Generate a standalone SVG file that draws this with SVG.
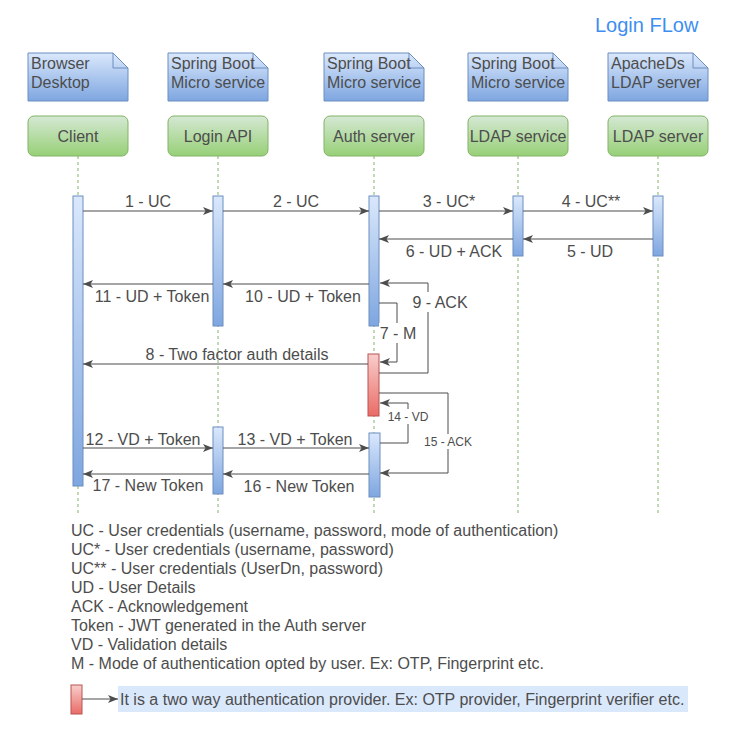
<svg xmlns="http://www.w3.org/2000/svg" width="732" height="744" viewBox="0 0 732 744">
<defs>
<linearGradient id="gBlue" x1="0" y1="0" x2="0" y2="1"><stop offset="0" stop-color="#dae8fc"/><stop offset="1" stop-color="#7ea6e0"/></linearGradient>
<linearGradient id="gGreen" x1="0" y1="0" x2="0" y2="1"><stop offset="0" stop-color="#d5e8d4"/><stop offset="1" stop-color="#97d077"/></linearGradient>
<linearGradient id="gRed" x1="0" y1="0" x2="0" y2="1"><stop offset="0" stop-color="#f8cecc"/><stop offset="1" stop-color="#ea6b66"/></linearGradient>
<marker id="ah" viewBox="0 0 10 10" refX="10" refY="5" markerWidth="10" markerHeight="10" markerUnits="userSpaceOnUse" orient="auto">
<path d="M0,1 L10,5 L0,9 L2.5,5 Z" fill="#4d4d4d"/>
</marker>
<style>
text{font-family:"Liberation Sans",Arial,sans-serif;font-size:16px;fill:#4d4d4d}
.note{fill:url(#gBlue);stroke:#6c8ebf;stroke-width:1}
.fold{fill:none;stroke:#6c8ebf;stroke-width:1}
.obj{fill:url(#gGreen);stroke:#82b366;stroke-width:1}
.life{stroke:#82b366;stroke-width:1;stroke-dasharray:3,3;fill:none}
.act{fill:url(#gBlue);stroke:#6c8ebf;stroke-width:1}
.actr{fill:url(#gRed);stroke:#b85450;stroke-width:1}
.msg{stroke:#4d4d4d;stroke-width:1;fill:none;marker-end:url(#ah)}
.mid{text-anchor:middle}
.sm{font-size:12px}
.lbg{fill:#ffffff}
</style>
</defs>
<rect width="732" height="744" fill="#ffffff"/>
<text x="595" y="32" style="font-size:20px;fill:#3d8ef0">Login FLow</text>

<g id="lifelines">
<line class="life" x1="78" y1="156" x2="78" y2="515"/>
<line class="life" x1="218" y1="156" x2="218" y2="515"/>
<line class="life" x1="374" y1="156" x2="374" y2="515"/>
<line class="life" x1="518" y1="156" x2="518" y2="515"/>
<line class="life" x1="658" y1="156" x2="658" y2="515"/>
</g>

<g id="note-browser"><path class="note" d="M28,53 H113 L128,68 V101 H28 Z"/><path class="fold" d="M113,53 V68 H128"/><text x="31" y="69">Browser</text><text x="31" y="88">Desktop</text></g>
<g id="note-login"><path class="note" d="M168,53 H253 L268,68 V101 H168 Z"/><path class="fold" d="M253,53 V68 H268"/><text x="171" y="69">Spring Boot</text><text x="171" y="88">Micro service</text></g>
<g id="note-auth"><path class="note" d="M324,53 H409 L424,68 V101 H324 Z"/><path class="fold" d="M409,53 V68 H424"/><text x="327" y="69">Spring Boot</text><text x="327" y="88">Micro service</text></g>
<g id="note-ldapsvc"><path class="note" d="M468,53 H553 L568,68 V101 H468 Z"/><path class="fold" d="M553,53 V68 H568"/><text x="471" y="69">Spring Boot</text><text x="471" y="88">Micro service</text></g>
<g id="note-ldapsrv"><path class="note" d="M608,53 H693 L708,68 V101 H608 Z"/><path class="fold" d="M693,53 V68 H708"/><text x="611" y="69">ApacheDs</text><text x="611" y="88">LDAP server</text></g>

<g id="client"><rect class="obj" x="28" y="116" width="100" height="40" rx="6"/><text class="mid" x="78" y="142">Client</text></g>
<g id="loginapi"><rect class="obj" x="168" y="116" width="100" height="40" rx="6"/><text class="mid" x="218" y="142">Login API</text></g>
<g id="authserver"><rect class="obj" x="324" y="116" width="100" height="40" rx="6"/><text class="mid" x="374" y="142">Auth server</text></g>
<g id="ldapservice"><rect class="obj" x="468" y="116" width="100" height="40" rx="6"/><text class="mid" x="518" y="142">LDAP service</text></g>
<g id="ldapserver"><rect class="obj" x="608" y="116" width="100" height="40" rx="6"/><text class="mid" x="658" y="142">LDAP server</text></g>

<g id="activations">
<rect class="act" x="73" y="196" width="10" height="290"/>
<rect class="act" x="213" y="196" width="10" height="130"/>
<rect class="act" x="213" y="427" width="10" height="67"/>
<rect class="act" x="369" y="196" width="10" height="130"/>
<rect class="actr" x="368" y="354" width="11" height="62"/>
<rect class="act" x="369" y="433" width="11" height="64"/>
<rect class="act" x="513" y="196" width="10" height="60"/>
<rect class="act" x="653" y="196" width="10" height="60"/>
</g>

<g id="connectors">
<line class="msg" x1="83" y1="211" x2="213" y2="211"/>
<text class="mid" x="148" y="207">1 - UC</text>
<line class="msg" x1="223" y1="211" x2="369" y2="211"/>
<text class="mid" x="296" y="207">2 - UC</text>
<line class="msg" x1="379" y1="211" x2="513" y2="211"/>
<text class="mid" x="449" y="207">3 - UC*</text>
<line class="msg" x1="523" y1="211" x2="653" y2="211"/>
<text class="mid" x="591" y="207">4 - UC**</text>
<line class="msg" x1="653" y1="239" x2="523" y2="239"/>
<text class="mid" x="590" y="257">5 - UD</text>
<line class="msg" x1="513" y1="239" x2="379" y2="239"/>
<text class="mid" x="454" y="257">6 - UD + ACK</text>
<line class="msg" x1="369" y1="284" x2="223" y2="284"/>
<text class="mid" x="303" y="302">10 - UD + Token</text>
<line class="msg" x1="213" y1="284" x2="83" y2="284"/>
<text class="mid" x="152" y="302">11 - UD + Token</text>
<polyline class="msg" points="379,303 397,303 397,362 380,362"/>
<rect class="lbg" x="379" y="323" width="38" height="20"/>
<text class="mid" x="398" y="339">7 - M</text>
<polyline class="msg" points="379,373 428,373 428,283 380,283"/>
<rect class="lbg" x="411" y="292" width="58" height="20"/>
<text class="mid" x="440" y="308">9 - ACK</text>
<line class="msg" x1="368" y1="364" x2="83" y2="364"/>
<text class="mid" x="237" y="360">8 - Two factor auth details</text>
<polyline class="msg" points="380,443 408,443 408,403 380,403"/>
<rect class="lbg" x="387" y="409" width="43" height="15"/>
<text class="mid sm" x="408" y="421">14 - VD</text>
<polyline class="msg" points="379,393 448,393 448,473 380,473"/>
<rect class="lbg" x="422" y="434" width="52" height="15"/>
<text class="mid sm" x="448" y="446">15 - ACK</text>
<line class="msg" x1="83" y1="448" x2="213" y2="448"/>
<text class="mid" x="143" y="445">12 - VD + Token</text>
<line class="msg" x1="223" y1="448" x2="369" y2="448"/>
<text class="mid" x="295" y="445">13 - VD + Token</text>
<line class="msg" x1="369" y1="474" x2="223" y2="474"/>
<text class="mid" x="299" y="492">16 - New Token</text>
<line class="msg" x1="213" y1="474" x2="83" y2="474"/>
<text class="mid" x="148" y="491">17 - New Token</text>
</g>

<g id="legend">
<text x="71" y="536">UC - User credentials (username, password, mode of authentication)</text>
<text x="71" y="555">UC* - User credentials (username, password)</text>
<text x="71" y="574">UC** - User credentials (UserDn, password)</text>
<text x="71" y="593">UD - User Details</text>
<text x="71" y="612">ACK - Acknowledgement</text>
<text x="71" y="631">Token - JWT generated in the Auth server</text>
<text x="71" y="650">VD - Validation details</text>
<text x="71" y="669">M - Mode of authentication opted by user. Ex: OTP, Fingerprint etc.</text>
</g>

<g id="legend-provider">
<rect class="actr" x="71" y="685" width="11" height="29"/>
<line class="msg" x1="82" y1="699" x2="118" y2="699"/>
<rect x="118" y="686" width="570" height="26" fill="#dae8fc"/>
<text x="120" y="705">It is a two way authentication provider. Ex: OTP provider, Fingerprint verifier etc.</text>
</g>
</svg>
